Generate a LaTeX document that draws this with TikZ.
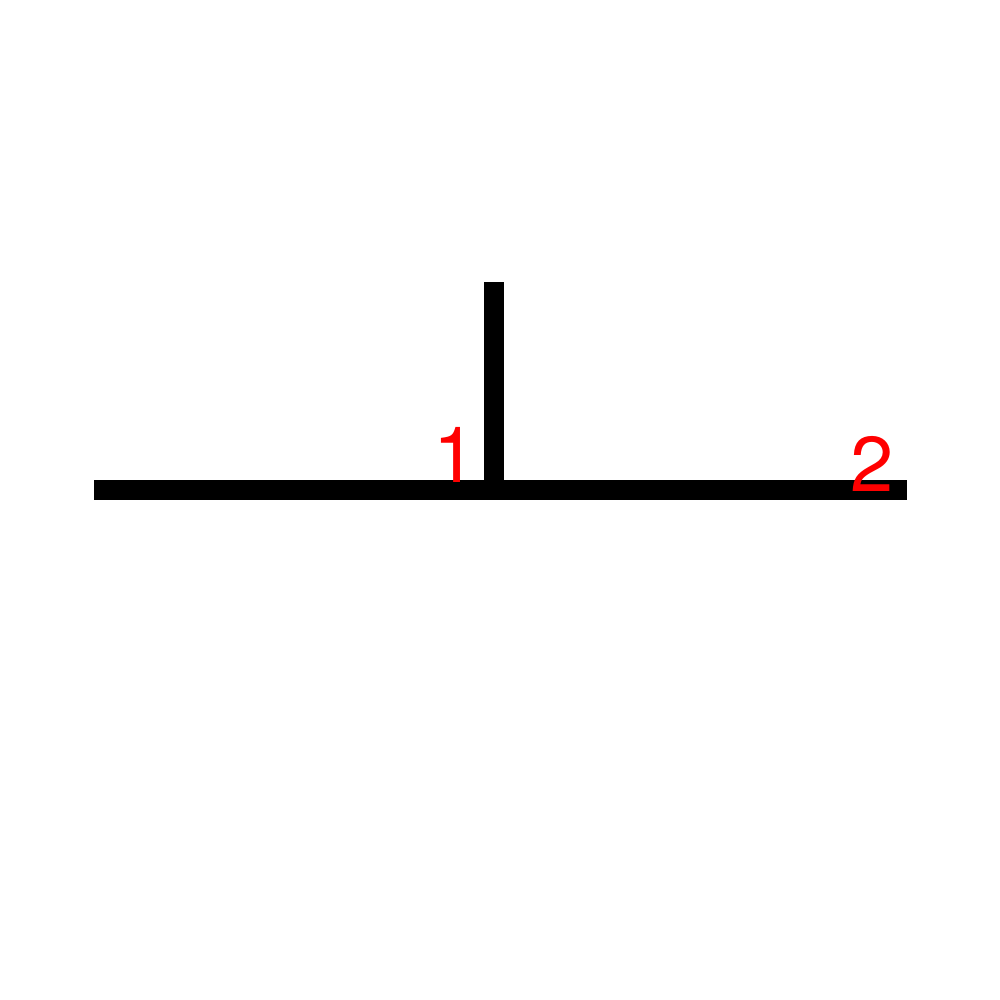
\documentclass[tikz,border=0pt]{standalone}
\usepackage{fontspec}
\setmainfont{TeX Gyre Heros}
\usetikzlibrary{positioning}

\begin{document}
\begin{tikzpicture}[x=0.01cm, y=-0.01cm,
    bar/.style={line width=0.2cm, line cap=butt, draw=black},
    numlabel/.style={text=red, inner sep=0pt, anchor=base,
        font=\fontsize{22.1pt}{22.1pt}\selectfont},
]
% canvas
\useasboundingbox (0,0) rectangle (1000,1000);

% points of the T
\coordinate (left)  at (94,490);
\coordinate (right) at (907,490);
\coordinate (joint) at (494,490);
\coordinate (top)   at (494,282);

% bars
\draw[bar] (left) -- (right);
\draw[bar] (joint) -- (top);

% labels
\node[numlabel] (one) at (455.5,482) {1};
\node[numlabel] (two) at (872,491) {2};
\end{tikzpicture}
\end{document}
